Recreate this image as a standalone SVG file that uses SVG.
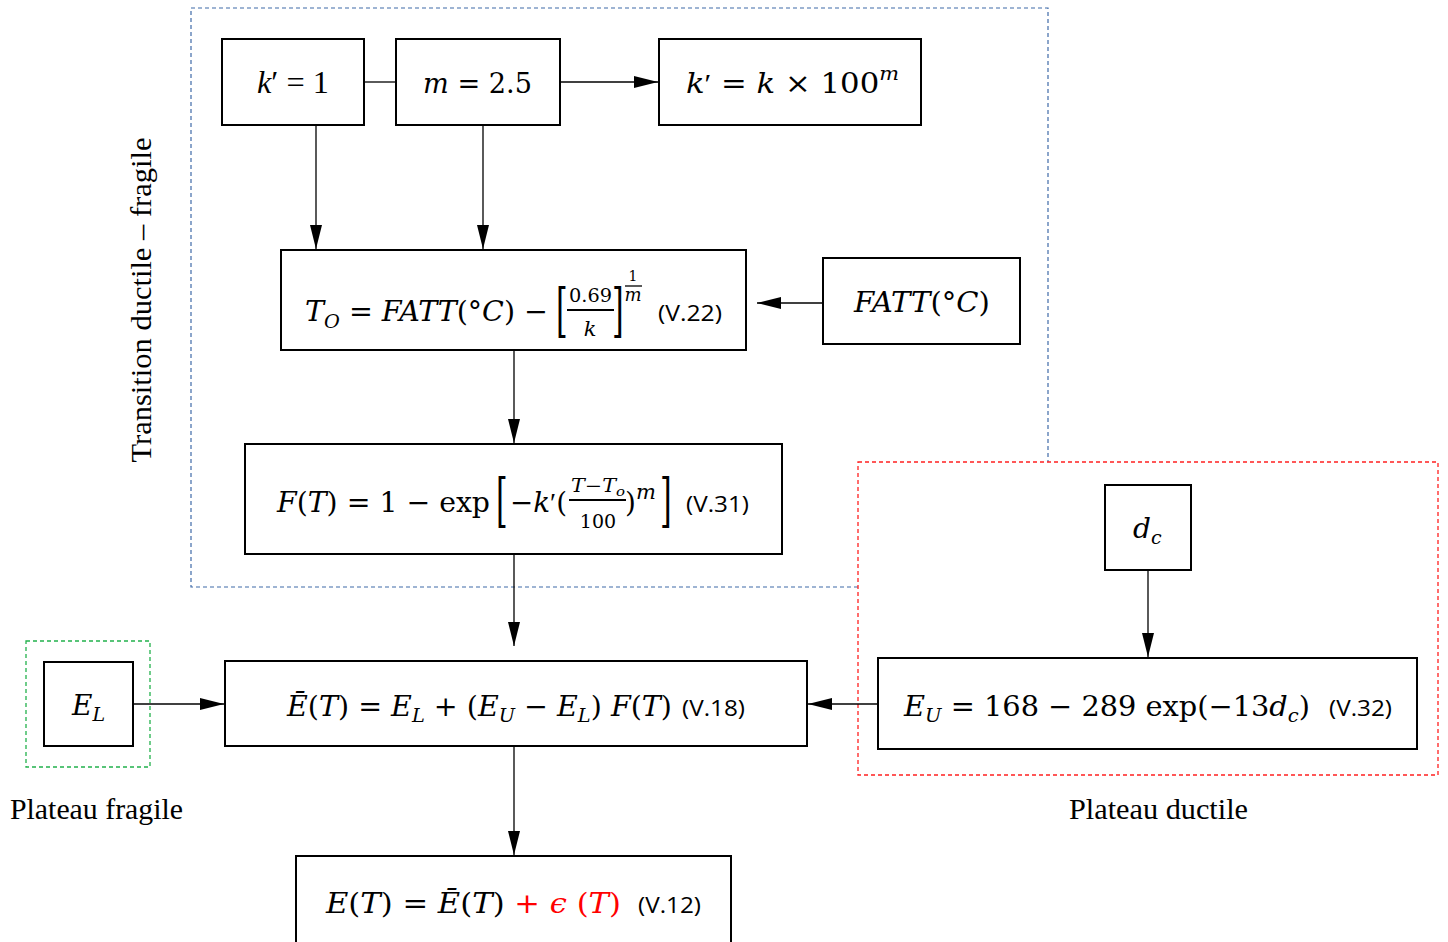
<svg xmlns="http://www.w3.org/2000/svg" width="1448" height="942" viewBox="0 0 1448 942">
<style>
.box{fill:#fff;stroke:#000;stroke-width:2}
.con{stroke:#000;stroke-width:1.3;fill:none}
.m{font-family:"DejaVu Serif","Liberation Serif",serif;font-size:28px;fill:#000}
.t{font-family:"Liberation Serif",serif;font-size:31px;fill:#000}
.i{font-style:italic}
.p{font-family:"Liberation Serif",serif}
.sub{font-size:19px}
.s{font-family:"Open Sans","Liberation Sans",sans-serif;font-size:21px;font-style:normal;fill:#000}
.lbl{font-family:"Liberation Serif",serif;font-size:30px;fill:#000}
</style>
<defs>
<marker id="ah" markerWidth="24" markerHeight="12" refX="24" refY="6" orient="auto" markerUnits="userSpaceOnUse">
<path d="M0,0 L24,6 L0,12 Z" fill="#000"/>
</marker>
</defs>
<g id="groups">
<path d="M858,587 H191 V8 H1048 V462" fill="none" stroke="#3f6aa8" stroke-width="1.2" stroke-dasharray="4,3"/>
<rect x="858" y="462" width="580" height="313" fill="none" stroke="#ff2020" stroke-width="1.3" stroke-dasharray="4,3"/>
<rect x="26" y="641" width="124" height="126" fill="none" stroke="#22b14c" stroke-width="1.3" stroke-dasharray="4,3"/>
</g>
<g id="connectors">
<line class="con" x1="364" y1="82" x2="396" y2="82"/>
<line class="con" x1="560" y1="82" x2="658" y2="82" marker-end="url(#ah)"/>
<line class="con" x1="316" y1="125" x2="316" y2="249" marker-end="url(#ah)"/>
<line class="con" x1="483" y1="125" x2="483" y2="249" marker-end="url(#ah)"/>
<line class="con" x1="823" y1="303" x2="757" y2="303" marker-end="url(#ah)"/>
<line class="con" x1="514" y1="350" x2="514" y2="443" marker-end="url(#ah)"/>
<line class="con" x1="514" y1="554" x2="514" y2="646" marker-end="url(#ah)"/>
<line class="con" x1="133" y1="704" x2="224" y2="704" marker-end="url(#ah)"/>
<line class="con" x1="878" y1="704" x2="808" y2="704" marker-end="url(#ah)"/>
<line class="con" x1="1148" y1="570" x2="1148" y2="657" marker-end="url(#ah)"/>
<line class="con" x1="514" y1="746" x2="514" y2="855" marker-end="url(#ah)"/>
</g>
<g id="n_k1">
<rect class="box" x="222" y="39" width="142" height="86"/>
<text class="t" x="257" y="93" textLength="72" lengthAdjust="spacingAndGlyphs"><tspan class="i">k</tspan>′ = 1</text>
</g>
<g id="n_m">
<rect class="box" x="396" y="39" width="164" height="86"/>
<text class="m" x="423" y="93" textLength="109" lengthAdjust="spacingAndGlyphs"><tspan class="i">m</tspan> = 2.5</text>
</g>
<g id="n_kprime">
<rect class="box" x="659" y="39" width="262" height="86"/>
<text class="m" x="686" y="93" textLength="213" lengthAdjust="spacingAndGlyphs"><tspan class="i">k</tspan><tspan class="p">′</tspan> = <tspan class="i">k</tspan> × 100<tspan class="i sub" dy="-13">m</tspan></text>
</g>
<g id="n_T0">
<rect class="box" x="281" y="250" width="465" height="100"/>
<text class="m" x="305" y="321" textLength="243" lengthAdjust="spacingAndGlyphs"><tspan class="i">T</tspan><tspan class="i sub" dy="7">O</tspan><tspan dy="-7"> = </tspan><tspan class="i">FATT</tspan>(°<tspan class="i">C</tspan>) −</text>
<text class="m" x="0" y="0" style="font-size:40px" transform="translate(556,330) scale(0.75,1.45)">[</text>
<text class="m" x="569" y="302" style="font-size:19px" textLength="43" lengthAdjust="spacingAndGlyphs">0.69</text>
<line x1="567" y1="310" x2="614" y2="310" stroke="#000" stroke-width="1.8"/>
<text class="m i" x="590" y="336" style="font-size:21px" text-anchor="middle">k</text>
<text class="m" x="0" y="0" style="font-size:40px" transform="translate(612,330) scale(0.75,1.45)">]</text>
<text class="m" x="633" y="281" style="font-size:14px" text-anchor="middle">1</text>
<line x1="625" y1="286" x2="642" y2="286" stroke="#000" stroke-width="1.3"/>
<text class="m i" x="633" y="301" style="font-size:18px" text-anchor="middle">m</text>
<text class="s" x="658" y="321" textLength="64" lengthAdjust="spacingAndGlyphs">(V.22)</text>
</g>
<g id="n_FATT">
<rect class="box" x="823" y="258" width="197" height="86"/>
<text class="m" x="854" y="312" textLength="136" lengthAdjust="spacingAndGlyphs"><tspan class="i">FATT</tspan>(°<tspan class="i">C</tspan>)</text>
</g>
<g id="n_FT">
<rect class="box" x="245" y="444" width="537" height="110"/>
<text class="m" x="277" y="512" textLength="213" lengthAdjust="spacingAndGlyphs"><tspan class="i">F</tspan>(<tspan class="i">T</tspan>) = 1 − exp</text>
<text class="m" x="0" y="0" style="font-size:40px" transform="translate(496,520) scale(0.75,1.45)">[</text>
<text class="m" x="510" y="512" textLength="57" lengthAdjust="spacingAndGlyphs">−<tspan class="i">k</tspan><tspan class="p">′</tspan>(</text>
<text class="m i" x="571" y="492" style="font-size:18px" textLength="54" lengthAdjust="spacingAndGlyphs">T−T<tspan style="font-size:13px" dy="4">o</tspan></text>
<line x1="569" y1="500" x2="626" y2="500" stroke="#000" stroke-width="1.8"/>
<text class="m" x="598" y="528" style="font-size:19px" text-anchor="middle">100</text>
<text class="m" x="625" y="512">)</text>
<text class="m i" x="636" y="499" style="font-size:21px">m</text>
<text class="m" x="0" y="0" style="font-size:40px" transform="translate(660,520) scale(0.75,1.45)">]</text>
<text class="s" x="686" y="512" textLength="63" lengthAdjust="spacingAndGlyphs">(V.31)</text>
</g>
<g id="n_dc">
<rect class="box" x="1105" y="485" width="86" height="85"/>
<text class="m i" x="1133" y="538">d<tspan class="sub" dy="6">c</tspan></text>
</g>
<g id="n_EL">
<rect class="box" x="44" y="662" width="89" height="84"/>
<text class="m i" x="72" y="715">E<tspan class="sub" dy="6">L</tspan></text>
</g>
<g id="n_Ebar">
<rect class="box" x="225" y="661" width="582" height="85"/>
<text class="m" x="287" y="716" textLength="385" lengthAdjust="spacingAndGlyphs"><tspan class="i">Ē</tspan>(<tspan class="i">T</tspan>) = <tspan class="i">E</tspan><tspan class="i sub" dy="6">L</tspan><tspan dy="-6"> + (</tspan><tspan class="i">E</tspan><tspan class="i sub" dy="6">U</tspan><tspan dy="-6"> − </tspan><tspan class="i">E</tspan><tspan class="i sub" dy="6">L</tspan><tspan dy="-6">) </tspan><tspan class="i">F</tspan>(<tspan class="i">T</tspan>)</text>
<text class="s" x="682" y="716" textLength="63" lengthAdjust="spacingAndGlyphs">(V.18)</text>
</g>
<g id="n_EU">
<rect class="box" x="878" y="658" width="539" height="91"/>
<text class="m" x="904" y="716" textLength="406" lengthAdjust="spacingAndGlyphs"><tspan class="i">E</tspan><tspan class="i sub" dy="6">U</tspan><tspan dy="-6"> = 168  −  289 exp(−13</tspan><tspan class="i">d</tspan><tspan class="i sub" dy="6">c</tspan><tspan dy="-6">)</tspan></text>
<text class="s" x="1329" y="716" textLength="63" lengthAdjust="spacingAndGlyphs">(V.32)</text>
</g>
<g id="n_ET">
<rect class="box" x="296" y="856" width="435" height="100"/>
<text class="m" x="326" y="913" textLength="295" lengthAdjust="spacingAndGlyphs"><tspan class="i">E</tspan>(<tspan class="i">T</tspan>) =  <tspan class="i">Ē</tspan>(<tspan class="i">T</tspan>)<tspan fill="#ff0000"> +  <tspan class="i">ϵ</tspan> (<tspan class="i">T</tspan>)</tspan></text>
<text class="s" x="638" y="913" textLength="63" lengthAdjust="spacingAndGlyphs">(V.12)</text>
</g>
<g id="labels">
<text class="lbl" x="151" y="300" text-anchor="middle" transform="rotate(-90,151,300)" textLength="325" lengthAdjust="spacingAndGlyphs">Transition ductile – fragile</text>
<text class="lbl" x="10" y="819" textLength="173" lengthAdjust="spacingAndGlyphs">Plateau fragile</text>
<text class="lbl" x="1069" y="819" textLength="179" lengthAdjust="spacingAndGlyphs">Plateau ductile</text>
</g>
</svg>
